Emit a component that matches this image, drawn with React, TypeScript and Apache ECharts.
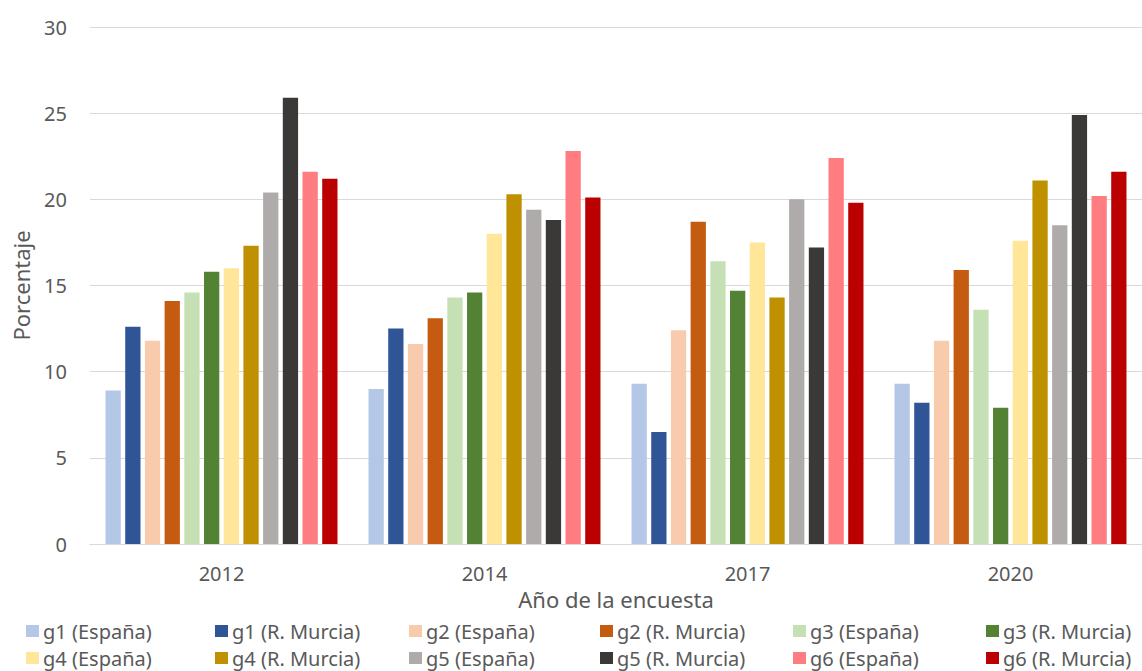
import React, { useEffect, useRef } from "react";
import * as echarts from "echarts";

const categories = ["2012", "2014", "2017", "2020"];
const seriesNames = [
  "g1 (España)", "g1 (R. Murcia)", "g2 (España)", "g2 (R. Murcia)",
  "g3 (España)", "g3 (R. Murcia)", "g4 (España)", "g4 (R. Murcia)",
  "g5 (España)", "g5 (R. Murcia)", "g6 (España)", "g6 (R. Murcia)",
];
const colors = [
  "#B4C7E7", "#2F5597", "#F8CBAD", "#C55A11", "#C5E0B4", "#548235",
  "#FFE699", "#BF9000", "#AFABAB", "#3B3838", "#FF7C80", "#BA0000",
];
const g1Espana = [8.9, 9.0, 9.3, 9.3];
const g1Murcia = [12.6, 12.5, 6.5, 8.2];
const g2Espana = [11.8, 11.6, 12.4, 11.8];
const g2Murcia = [14.1, 13.1, 18.7, 15.9];
const g3Espana = [14.6, 14.3, 16.4, 13.6];
const g3Murcia = [15.8, 14.6, 14.7, 7.9];
const g4Espana = [16.0, 18.0, 17.5, 17.6];
const g4Murcia = [17.3, 20.3, 14.3, 21.1];
const g5Espana = [20.4, 19.4, 20.0, 18.5];
const g5Murcia = [25.9, 18.8, 17.2, 24.9];
const g6Espana = [21.6, 22.8, 22.4, 20.2];
const g6Murcia = [21.2, 20.1, 19.8, 21.6];
const seriesValues = [
  g1Espana, g1Murcia, g2Espana, g2Murcia, g3Espana, g3Murcia,
  g4Espana, g4Murcia, g5Espana, g5Murcia, g6Espana, g6Murcia,
];

const FONT = "Noto Sans";
const GREY = "#595959";

export default function App() {
  const ref = useRef<HTMLDivElement>(null);
  useEffect(() => {
    if (!ref.current) return;
    const chart = echarts.init(ref.current, undefined, { renderer: "svg" });
    const legendLefts = [26, 215, 409, 600, 793, 986];
    const legendTops = [621, 648];
    const legends = seriesNames.map((name, i) => ({
      orient: "horizontal",
      left: legendLefts[i % 6],
      top: legendTops[Math.floor(i / 6)],
      itemWidth: 13,
      itemHeight: 12,
      icon: "rect",
      padding: 0,
      textStyle: { fontFamily: FONT, fontSize: 20, color: GREY, lineHeight: 20, padding: [0, 0, 0, -1] },
      data: [name],
    }));
    chart.setOption({
      animation: false,
      backgroundColor: "#ffffff",
      textStyle: { fontFamily: FONT },
      grid: { left: 90, right: 0, top: 27, bottom: 127 },
      legend: legends,
      xAxis: {
        type: "category",
        data: categories,
        axisLine: { lineStyle: { color: "#D9D9D9", width: 1 } },
        axisTick: { show: false },
        axisLabel: { fontFamily: FONT, fontSize: 20, color: GREY, margin: 19 },
        name: "Año de la encuesta",
        nameLocation: "middle",
        nameGap: 37,
        nameTextStyle: { fontFamily: FONT, fontSize: 22, color: GREY },
      },
      yAxis: {
        type: "value",
        min: 0,
        max: 30,
        interval: 5,
        axisLine: { show: false },
        axisTick: { show: false },
        splitLine: { lineStyle: { color: "#D9D9D9", width: 1 } },
        axisLabel: { fontFamily: FONT, fontSize: 20, color: GREY, margin: 23 },
        name: "Porcentaje",
        nameLocation: "middle",
        nameGap: 58,
        nameTextStyle: { fontFamily: FONT, fontSize: 22, color: GREY },
      },
      series: seriesValues.map((vals, i) => ({
        name: seriesNames[i],
        type: "bar",
        data: vals,
        barGap: "29%",
        barCategoryGap: "11.8%",
        itemStyle: { color: colors[i] },
      })),
    });
    return () => chart.dispose();
  }, []);
  return (
    <div
      ref={ref}
      style={{ position: "fixed", left: 0, top: 0, width: 1142, height: 671 }}
    />
  );
}
